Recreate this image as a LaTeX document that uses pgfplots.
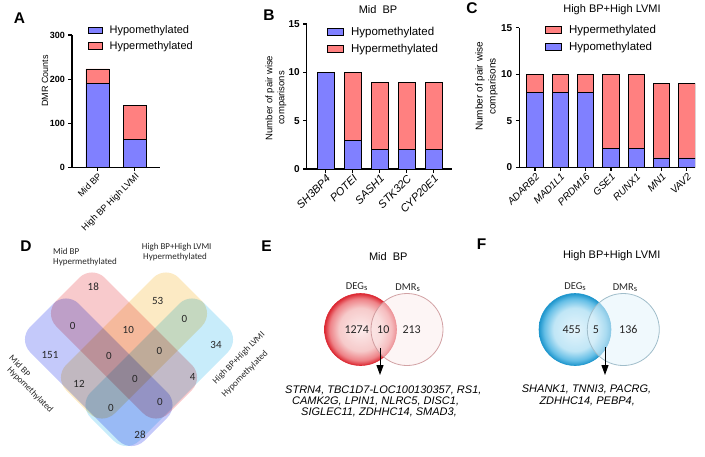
\documentclass[border=0pt]{standalone}
\usepackage{fontspec}
\setmainfont{Liberation Sans}
\newfontfamily\calib{Carlito}
\usepackage{pgfplots}
\pgfplotsset{compat=1.18}
\usetikzlibrary{arrows.meta}
\newcommand\fs[1]{\fontsize{#1}{#1}\selectfont}
\newcommand\fsb[2]{\fontsize{#1}{#2}\selectfont}
\definecolor{hypo}{RGB}{128,128,255}
\definecolor{hyper}{RGB}{255,128,128}
\definecolor{vpink}{RGB}{248,202,204}
\definecolor{vyellow}{RGB}{252,234,196}
\definecolor{vcyan}{RGB}{200,236,250}
\definecolor{vlav}{RGB}{196,201,250}
\definecolor{ecen}{RGB}{252,236,236}
\definecolor{emid}{RGB}{246,202,202}
\definecolor{erim2}{RGB}{238,130,135}
\definecolor{erim}{RGB}{220,40,50}
\definecolor{bcen}{RGB}{228,244,251}
\definecolor{bmid}{RGB}{192,230,246}
\definecolor{brim2}{RGB}{100,190,230}
\definecolor{brim}{RGB}{30,150,205}
\pgfdeclareradialshading{redrim}{\pgfpointorigin}{color(0bp)=(ecen); color(15bp)=(emid); color(21.5bp)=(erim2); color(25bp)=(erim); color(50bp)=(erim)}
\pgfdeclareradialshading{bluerim}{\pgfpointorigin}{color(0bp)=(bcen); color(15bp)=(bmid); color(21.5bp)=(brim2); color(25bp)=(brim); color(50bp)=(brim)}
\pgfplotsset{
  barax/.style={
    scale only axis, ybar stacked, ymin=0,
    axis x line*=bottom, axis y line*=left,
    axis line style={line width=1.3pt,-},
    x axis line style={-}, y axis line style={-},
    every tick/.style={black,line width=1.1pt},
    tick align=outside, major tick length=3.5pt,
    xtick=data,
    /pgf/number format/assume math mode=true,
    yticklabel style={font=\bfseries\fs{10}},
    every axis plot/.append style={draw=black, line width=0.9pt},
    legend cell align=left,
    legend style={draw=none, fill=none, inner sep=0pt, anchor=north west,
      nodes={inner sep=0.5pt}, font=\fs{11.5}, row sep=6pt, column sep=6.5pt},
    legend image code/.code={\draw[##1,line width=0.9pt,draw=black] (0pt,-3.6pt) rectangle (16pt,3.6pt);},
  }
}
\begin{document}
\begin{tikzpicture}
\useasboundingbox (0,0) rectangle (705pt,-456pt);
% ---------- canvas axis (Venn diagrams, annotations) ----------
\begin{axis}[at={(0pt,0pt)}, anchor=north west, scale only axis, width=705pt, height=456pt,
  xmin=0, xmax=705, ymin=0, ymax=456, y dir=reverse, hide axis, clip=false]
% Panel D : four rounded rectangles (corners listed, start at mid-edge)
\addplot[draw=none, fill=vlav, rounded corners=18pt, blend mode=multiply] coordinates {(41.75,315.25) (66,291) (180,405) (131.5,453.5) (17.5,339.5)} -- cycle;
\addplot[draw=none, fill=vcyan, rounded corners=18pt, blend mode=multiply] coordinates {(216.25,315.25) (240.5,339.5) (126.5,453.5) (78,405) (192,291)} -- cycle;
\addplot[draw=none, fill=vyellow, rounded corners=18pt, blend mode=multiply] coordinates {(190.25,289.25) (214.5,313.5) (102,426) (53.5,377.5) (166,265)} -- cycle;
\addplot[draw=none, fill=vpink, rounded corners=18pt, blend mode=multiply] coordinates {(67.75,289.25) (92,265) (204.5,377.5) (156,426) (43.5,313.5)} -- cycle;
\begin{scope}[every node/.style={font=\calib\fs{11}, text=black!85, inner sep=1pt}]
\node at (axis cs:93.3,286.7) {18};
\node at (axis cs:157.7,301) {53};
\node at (axis cs:72.7,326) {0};
\node at (axis cs:128.3,330) {10};
\node at (axis cs:184.3,319) {0};
\node at (axis cs:50,355) {151};
\node at (axis cs:109,355.7) {0};
\node at (axis cs:159.3,351) {0};
\node at (axis cs:216,345) {34};
\node at (axis cs:79,384.3) {12};
\node at (axis cs:135,379) {0};
\node at (axis cs:192.7,376.7) {4};
\node at (axis cs:111,407.7) {0};
\node at (axis cs:160,402.3) {0};
\node at (axis cs:140,435) {28};
\end{scope}
\begin{scope}[every node/.style={font=\calib\fs{9}, text=black!85, inner sep=0pt}]
\node[anchor=west] at (axis cs:53,251.5) {Mid BP};
\node[anchor=west] at (axis cs:53,262) {Hypermethylated};
\node[anchor=west] at (axis cs:141.7,247.5) {High BP+High LVMI};
\node[anchor=west] at (axis cs:143,257.5) {Hypermethylated};
\node[rotate=-45] at (axis cs:20,366) {Mid BP};
\node[rotate=-45] at (axis cs:30,390) {Hypomethylated};
\node[rotate=45] at (axis cs:239,358) {High BP+High LVMI};
\node[rotate=45] at (axis cs:245,374) {Hypomethylated};
\end{scope}
% Panel E
\shade[shading=redrim] (axis cs:360.5,329.5) circle[radius=36pt];
\draw[erim, line width=0.6pt] (axis cs:360.5,329.5) circle[radius=36pt];
\fill[fill=ecen, fill opacity=0.55] (axis cs:407,329.5) circle[radius=36pt];
\draw[black!35!erim!45!white, line width=0.8pt, draw opacity=0.9] (axis cs:407,329.5) circle[radius=36pt];
% Panel F
\shade[shading=bluerim] (axis cs:575,329.5) circle[radius=36pt];
\draw[brim, line width=0.6pt] (axis cs:575,329.5) circle[radius=36pt];
\fill[fill=bcen, fill opacity=0.55] (axis cs:623.3,329.5) circle[radius=36pt];
\draw[black!40!brim!40!white, line width=0.8pt] (axis cs:623.3,329.5) circle[radius=36pt];
\addplot[black, line width=1pt, -{Triangle[width=7pt,length=10pt]}] coordinates {(380,348) (380,375)};
\addplot[black, line width=1pt, -{Triangle[width=7pt,length=10pt]}] coordinates {(605,347) (605,375)};
\begin{scope}[every node/.style={font=\calib\fs{12}, text=black!85, inner sep=1pt}]
\node at (axis cs:356.7,329.3) {1274};
\node at (axis cs:383.3,329.3) {10};
\node at (axis cs:411.7,329.3) {213};
\node at (axis cs:571.7,329.3) {455};
\node at (axis cs:596,329.3) {5};
\node at (axis cs:628.3,329.3) {136};
\end{scope}
\begin{scope}[every node/.style={font=\calib\fs{10.5}, text=black!85, inner sep=1pt}]
\node at (axis cs:356.7,286.7) {DEG\raisebox{-0.8pt}{\fs{8.5}s}};
\node at (axis cs:407.7,288) {DMR\raisebox{-0.8pt}{\fs{8.5}s}};
\node at (axis cs:575,286.7) {DEG\raisebox{-0.8pt}{\fs{8.5}s}};
\node at (axis cs:625,288) {DMR\raisebox{-0.8pt}{\fs{8.5}s}};
\end{scope}
\begin{scope}[every node/.style={font=\itshape\fs{11}, anchor=west, inner sep=0pt}]
\node at (axis cs:285,390) {STRN4, TBC1D7-LOC100130357, RS1,};
\node at (axis cs:292,401.7) {CAMK2G, LPIN1, NLRC5, DISC1,};
\node at (axis cs:301,412.7) {SIGLEC11, ZDHHC14, SMAD3,};
\node at (axis cs:521.7,389.3) {SHANK1, TNNI3, PACRG,};
\node at (axis cs:539.3,401.7) {ZDHHC14, PEBP4,};
\end{scope}
% titles
\begin{scope}[every node/.style={font=\fs{11}}]
\node at (axis cs:378,10) {Mid\hspace{0.55em}BP};
\node at (axis cs:612,10) {High BP+High LVMI};
\node at (axis cs:388.3,256.7) {Mid\hspace{0.55em}BP};
\node at (axis cs:611.7,256) {High BP+High LVMI};
\end{scope}
% panel letters
\begin{scope}[every node/.style={font=\bfseries\fs{15.5}}]
\node at (axis cs:19.5,18) {A};
\node at (axis cs:269,15) {B};
\node at (axis cs:472,8.5) {C};
\node at (axis cs:26,246) {D};
\node at (axis cs:266.5,246.5) {E};
\node at (axis cs:481.7,244) {F};
\end{scope}
\end{axis}
% ---------- Panel A ----------
\begin{axis}[barax, at={(72pt,-167.3pt)}, anchor=south west, width=88pt, height=132.3pt,
  xmin=-0.68, xmax=1.67, ymax=300, ytick={0,100,200,300}, bar width=23pt,
  yticklabel style={font=\bfseries\fs{9}},
  xticklabels={Mid BP, High BP High LVMI},
  xticklabel style={rotate=45, anchor=north east, font=\fs{9}, inner sep=1pt},
  ylabel={DMR Counts}, ylabel style={font=\fs{9}, at={(axis description cs:-0.307,0.652)}, anchor=center},
  legend style={at={(axis description cs:0.182,1.075)}, font=\fs{11}, row sep=5pt, column sep=6pt},
  legend image code/.code={\draw[#1,line width=0.9pt,draw=black] (0pt,-3.4pt) rectangle (14pt,3.4pt);}]
\addplot[fill=hypo] coordinates {(0,190) (1,64)};
\addplot[fill=hyper] coordinates {(0,33) (1,77)};
\legend{Hypomethylated, Hypermethylated}
\end{axis}
% ---------- Panel B ----------
\begin{axis}[barax, at={(306.7pt,-169pt)}, anchor=south west, width=145pt, height=145pt,
  xmin=-0.7, xmax=4.67, ymax=15, ytick={0,5,10,15}, bar width=17pt,
  xticklabels={SH3BP4,POTEI,SASH1,STK32C,CYP20E1},
  xticklabel style={rotate=45, anchor=north east, font=\itshape\fs{11}, inner sep=1pt},
  ylabel={Number of pair wise\\comparisons}, ylabel style={font=\fsb{9.5}{12}, align=center, at={(axis description cs:-0.212,0.49)}, anchor=center},
  legend style={at={(axis description cs:0.14,0.985)}}]
\addplot[fill=hypo] coordinates {(0,10) (1,3) (2,2) (3,2) (4,2)};
\addplot[fill=hyper] coordinates {(0,0) (1,7) (2,7) (3,7) (4,7)};
\legend{Hypomethylated, Hypermethylated}
\end{axis}
% ---------- Panel C ----------
\begin{axis}[barax, at={(519.3pt,-167.3pt)}, anchor=south west, width=175.7pt, height=139.6pt,
  xmin=-0.62, xmax=6.32, ymax=15, ytick={0,5,10,15}, bar width=16.5pt,
  xticklabels={ADARB2,MAD1L1,PRDM16,GSE1,RUNX1,MN1,VAV2},
  xticklabel style={rotate=45, anchor=north east, font=\itshape\fs{10}, inner sep=1pt},
  ylabel={Number of pair wise\\comparisons}, ylabel style={font=\fsb{10}{13}, align=center, at={(axis description cs:-0.187,0.58)}, anchor=center},
  legend style={at={(axis description cs:0.146,1.025)}}, reverse legend]
\addplot[fill=hypo] coordinates {(0,8) (1,8) (2,8) (3,2) (4,2) (5,1) (6,1)};
\addplot[fill=hyper] coordinates {(0,2) (1,2) (2,2) (3,8) (4,8) (5,8) (6,8)};
\legend{Hypomethylated, Hypermethylated}
\end{axis}
\end{tikzpicture}
\end{document}
